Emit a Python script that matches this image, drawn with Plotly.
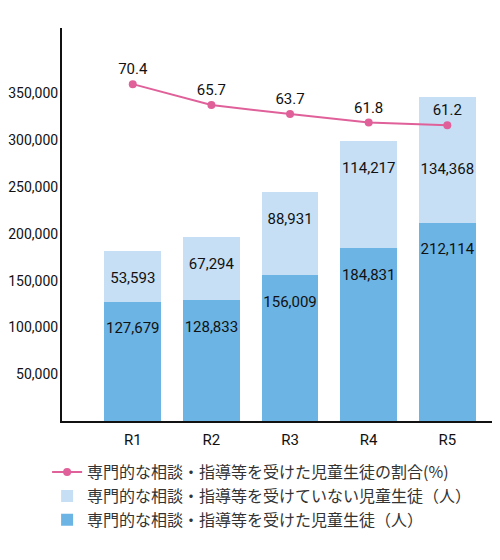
import plotly.graph_objects as go

# Data
years = ["R1", "R2", "R3", "R4", "R5"]
received = [127679, 128833, 156009, 184831, 212114]
not_received = [53593, 67294, 88931, 114217, 134368]
ratio = [70.4, 65.7, 63.7, 61.8, 61.2]

num_font = "Roboto, sans-serif"
jp_font = "Noto Sans CJK JP, sans-serif"

# labels sit a little below the top of each segment (R5 top label is pushed down under the line)
drop_low = [30000, 30000, 30000, 30000, 30000]
drop_high = [30000, 30000, 30000, 30000, 78000]
totals = [a + b for a, b in zip(received, not_received)]

fig = go.Figure()

# Stacked bars (bottom: received, top: not received)
fig.add_trace(go.Bar(
    x=years, y=received,
    name="専門的な相談・指導等を受けた児童生徒（人）",
    marker=dict(color="#6cb4e4", line=dict(width=0)),
    width=0.72,
))
fig.add_trace(go.Bar(
    x=years, y=not_received,
    name="専門的な相談・指導等を受けていない児童生徒（人）",
    marker=dict(color="#c6dff5", line=dict(width=0)),
    width=0.72,
))

# value labels for the bar segments
fig.add_trace(go.Scatter(
    x=years + years,
    y=[v - d for v, d in zip(received, drop_low)] + [t - d for t, d in zip(totals, drop_high)],
    text=[f"{v:,}" for v in received] + [f"{v:,}" for v in not_received],
    mode="text", showlegend=False, hoverinfo="skip",
    textfont=dict(family=num_font, size=15, color="#111111"),
))

# Ratio line on a second axis
fig.add_trace(go.Scatter(
    x=years, y=ratio, yaxis="y2",
    name="専門的な相談・指導等を受けた児童生徒の割合(%)",
    mode="lines+markers+text",
    line=dict(color="#e0609a", width=2),
    marker=dict(color="#e0609a", size=8),
    text=[f"{v:.1f}" for v in ratio],
    textposition="top center",
    textfont=dict(family=num_font, size=15, color="#111111"),
))

fig.update_layout(
    width=500, height=560,
    margin=dict(l=54, r=8, t=20, b=147),
    paper_bgcolor="white", plot_bgcolor="white",
    barmode="stack",
    showlegend=True,
    legend=dict(
        x=-0.034, y=-0.087, xanchor="left", yanchor="top",
        traceorder="reversed",
        font=dict(family=jp_font, size=16, color="#333333"),
        itemwidth=30, tracegroupgap=0,
    ),
    xaxis=dict(
        range=[-0.9, 4.67], automargin=False,
        showline=True, linecolor="#111111", linewidth=2,
        ticks="", showgrid=False, ticklabelstandoff=4,
        tickfont=dict(family=num_font, size=15, color="#111111"),
    ),
    yaxis=dict(
        range=[0, 420000], automargin=False,
        tickvals=[50000, 100000, 150000, 200000, 250000, 300000, 350000],
        tickformat=",d",
        showline=True, linecolor="#111111", linewidth=2,
        ticks="", showgrid=False, zeroline=False, ticklabelstandoff=-1,
        tickfont=dict(family=num_font, size=14, color="#111111"),
    ),
    yaxis2=dict(
        range=[-5.2, 83], overlaying="y", side="right",
        visible=False, showgrid=False,
    ),
)

fig.write_html("out.html")
